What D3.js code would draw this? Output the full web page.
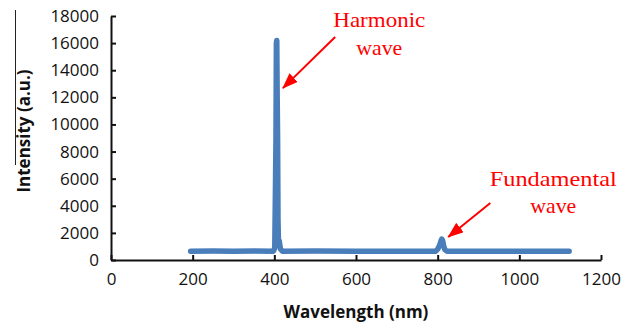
<!DOCTYPE html>
<html>
<head>
<meta charset="utf-8">
<script src="https://cdn.jsdelivr.net/npm/d3@7"></script>
<style>
  body { margin: 0; background: #fff; }
  svg { display: block; }
</style>
</head>
<body>
<svg id="chart"></svg>
<script>
const width = 633;
const height = 325;

// spectrum
const wavelength = [195, 250, 300, 350, 398, 401, 403, 404, 405, 406, 407, 408, 409, 410, 412, 415, 420,
    500, 600, 700, 795, 800, 805, 808, 810, 812, 815, 818, 823, 900, 1000, 1122];
const intensity = [650, 660, 650, 660, 650, 900, 6000, 9000, 16000, 16200, 12000, 9000, 3000, 1500, 1400, 800, 650,
    660, 650, 650, 650, 800, 1100, 1400, 1550, 1450, 1000, 750, 650, 650, 650, 650];

const xTicks = [0, 200, 400, 600, 800, 1000, 1200];
const yTicks = [0, 2000, 4000, 6000, 8000, 10000, 12000, 14000, 16000, 18000];

// annotations in data units: label lines, text anchor, arrow tail and tip
const notes = [
    { lines: ["Harmonic", "wave"], tx: 657, ty: [17180, 15120], from: [549, 16445], to: [421, 12680], len: [92, 46] },
    { lines: ["Fundamental", "wave"], tx: 1083, ty: [5460, 3470], from: [929, 4200], to: [826, 1700], len: [127, 46] }
];

const margin = { top: 16, right: 32, bottom: 65, left: 111 };

var svg = d3.select("#chart")
    .attr("width", width)
    .attr("height", height);

var x = d3.scaleLinear().domain([0, 1200]).range([margin.left, width - margin.right]);
var y = d3.scaleLinear().domain([0, 18000]).range([height - margin.bottom, margin.top]);

// stray rule left of the y title in the original
svg.append("line")
    .attr("x1", 15.5).attr("x2", 15.5).attr("y1", 10).attr("y2", 165)
    .attr("stroke", "#222").attr("stroke-width", 1);

var xAxis = svg.append("g")
    .attr("transform", `translate(0,${y(0)})`)
    .call(d3.axisBottom(x).tickValues(xTicks).tickFormat(d3.format("d"))
        .tickSizeInner(-5).tickSizeOuter(0).tickPadding(13));

var yAxis = svg.append("g")
    .attr("transform", `translate(${x(0)},0)`)
    .call(d3.axisLeft(y).tickValues(yTicks).tickFormat(d3.format("d"))
        .tickSizeInner(-5).tickSizeOuter(0).tickPadding(12));

[xAxis, yAxis].forEach(g => {
    g.select(".domain").attr("stroke", "#111").attr("stroke-width", 2);
    g.selectAll(".tick line").attr("stroke", "#111").attr("stroke-width", 2);
    g.selectAll(".tick text")
        .attr("fill", "#111")
        .style("font-family", "'Open Sans', sans-serif")
        .style("font-size", "17px");
});

// spectrum line
var line = d3.line()
    .x((d, i) => x(wavelength[i]))
    .y(d => y(d));

svg.append("path")
    .datum(intensity)
    .attr("fill", "none")
    .attr("stroke", "#4a7ebb")
    .attr("stroke-width", 5.5)
    .attr("stroke-linejoin", "round")
    .attr("stroke-linecap", "round")
    .attr("d", line);

// axis titles
svg.append("text")
    .attr("x", 356)
    .attr("y", 318)
    .attr("text-anchor", "middle")
    .style("font-family", "'Open Sans', sans-serif")
    .style("font-weight", "bold")
    .style("font-size", "17px")
    .attr("fill", "#111")
    .text("Wavelength (nm)");

svg.append("text")
    .attr("transform", "translate(30,131) rotate(-90)")
    .attr("text-anchor", "middle")
    .style("font-family", "'Open Sans', sans-serif")
    .style("font-weight", "bold")
    .style("font-size", "17px")
    .attr("fill", "#111")
    .text("Intensity (a.u.)");

// arrows
svg.append("defs").append("marker")
    .attr("id", "head")
    .attr("markerUnits", "userSpaceOnUse")
    .attr("viewBox", "0 0 16 12")
    .attr("refX", 15).attr("refY", 6)
    .attr("markerWidth", 16).attr("markerHeight", 12)
    .attr("orient", "auto")
    .append("path")
    .attr("d", "M0,0 L16,6 L0,12 Z")
    .attr("fill", "#f00");

var note = svg.selectAll(".note")
    .data(notes)
    .enter().append("g")
    .attr("class", "note");

note.append("line")
    .attr("x1", d => x(d.from[0]))
    .attr("y1", d => y(d.from[1]))
    .attr("x2", d => x(d.to[0]))
    .attr("y2", d => y(d.to[1]))
    .attr("stroke", "#f00")
    .attr("stroke-width", 2)
    .attr("marker-end", "url(#head)");

note.each(function (d) {
    d.lines.forEach((t, i) => {
        d3.select(this).append("text")
            .attr("x", x(d.tx))
            .attr("y", y(d.ty[i]))
            .attr("text-anchor", "middle")
            .attr("textLength", d.len[i])
            .attr("lengthAdjust", "spacingAndGlyphs")
            .style("font-family", "'Liberation Serif', 'DejaVu Serif', serif")
            .style("font-size", "22px")
            .attr("fill", "#f00")
            .text(t);
    });
});
</script>
</body>
</html>
